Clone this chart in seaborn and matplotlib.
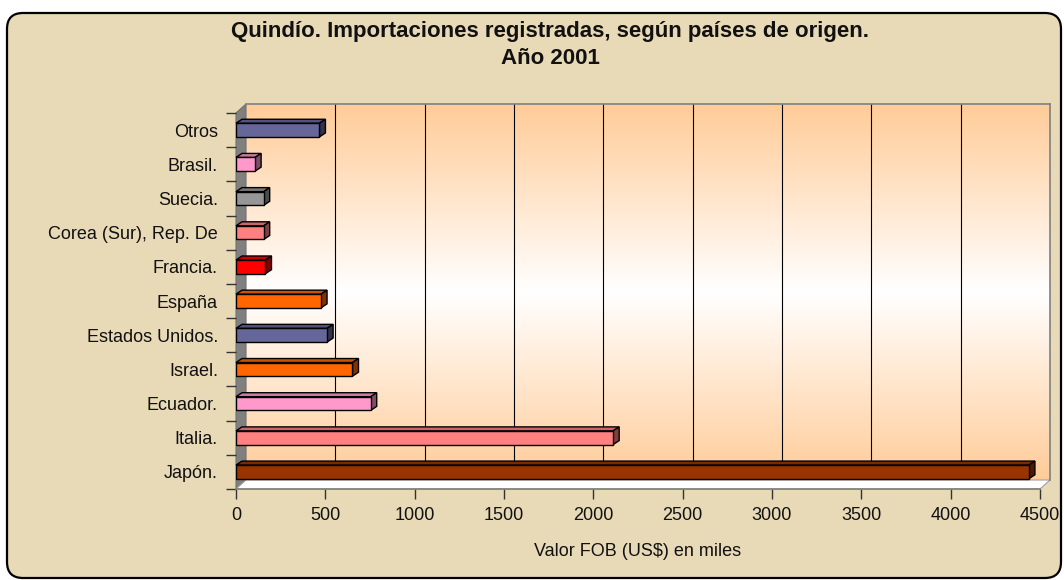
import numpy as np
import pandas as pd
import matplotlib
matplotlib.use("Agg")
import matplotlib.pyplot as plt
import seaborn as sns
from matplotlib.patches import Polygon, FancyBboxPatch
from matplotlib.transforms import IdentityTransform
from matplotlib.colors import LinearSegmentedColormap, to_rgb

# ---------------- data ----------------
countries = ["Otros", "Brasil.", "Suecia.", "Corea (Sur), Rep. De", "Francia.",
             "España", "Estados Unidos.", "Israel.", "Ecuador.", "Italia.", "Japón."]
values = [467, 107, 155, 155, 165, 476, 510, 652, 754, 2111, 4438]
bar_colors = ["#666699", "#FF99CC", "#969696", "#FF8080", "#FF0000",
              "#FF6600", "#666699", "#FF6600", "#FF99CC", "#FF8080", "#993300"]
x_ticks = [0, 500, 1000, 1500, 2000, 2500, 3000, 3500, 4000, 4500]
title_lines = ["Quindío. Importaciones registradas, según países de origen.", "Año 2001"]
x_label = "Valor FOB (US$) en miles"

df = pd.DataFrame({"pais": countries, "valor": values})
palette = dict(zip(countries, bar_colors))

sns.set_theme(style="white")
plt.rcParams["font.family"] = ["Liberation Sans", "DejaVu Sans"]

W, H = 1064, 580
fig = plt.figure(figsize=(W / 100, H / 100), dpi=100)
fig.patch.set_facecolor("white")

# parchment frame
frame = FancyBboxPatch((7, 2), 1054, 565, boxstyle="round,pad=0,rounding_size=16",
                       transform=IdentityTransform(), facecolor="#E8D9B7",
                       edgecolor="black", linewidth=1.6, zorder=-10)
fig.patches.append(frame)

# front plane geometry (pixels, from top-left)
fl, fr, ft, fb = 236, 1040, 113, 489
DX, DY = 10, 9  # depth offset of the back wall

def fig_rect(l, r, t, b):
    return [l / W, 1 - b / H, (r - l) / W, (b - t) / H]

bg = fig.add_axes(fig_rect(fl + DX, fr + DX, ft - DY, fb - DY))
ax = fig.add_axes(fig_rect(fl, fr, ft, fb))
bg.set_zorder(0)
ax.set_zorder(1)
ax.patch.set_visible(False)

# back wall gradient
cmap = LinearSegmentedColormap.from_list("wall", ["#FFFFFF", "#FFCC99"])
grad = np.abs(np.linspace(-1, 1, 200))[:, None] ** 1.0
bg.imshow(grad, aspect="auto", cmap=cmap, extent=[0, 4500, 0, 1], vmin=0, vmax=1,
          zorder=0)
bg.set_xlim(0, 4500)
bg.set_ylim(0, 1)
for xv in x_ticks[1:-1]:
    bg.axvline(xv, color="black", lw=0.8, zorder=1)
bg.set_xticks([])
bg.set_yticks([])
for s in bg.spines.values():
    s.set_color("#808080")
    s.set_linewidth(1.2)
bg.spines["left"].set_visible(False)
bg.spines["bottom"].set_visible(False)

# bars
sns.barplot(data=df, x="valor", y="pais", hue="pais", palette=palette, order=countries,
            hue_order=countries, legend=False, width=0.4, edgecolor="black",
            linewidth=1.0, saturation=1, ax=ax, zorder=3)
ax.set_xlim(0, 4500)
ax.set_ylim(len(countries) - 0.5, -0.5)
ax.set_xticks(x_ticks)
ax.set_xticklabels([str(v) for v in x_ticks], fontsize=13)
ax.set_yticks(range(len(countries)))
ax.set_yticklabels(countries, fontsize=13)
ax.set_yticks(np.arange(-0.5, len(countries), 1), minor=True)
ax.tick_params(axis="y", which="major", length=0, pad=13, colors="#111111")
ax.tick_params(axis="y", which="minor", left=True, length=7, width=1, color="#333333")
ax.tick_params(axis="x", which="major", bottom=True, length=7, width=1, color="#333333",
               pad=6, colors="#111111")
ax.set_xlabel(x_label, fontsize=13, labelpad=14, color="#111111")
ax.set_ylabel("")
for s in ["top", "right", "left"]:
    ax.spines[s].set_visible(False)
ax.spines["bottom"].set_color("#808080")
ax.spines["bottom"].set_linewidth(1.2)

# walls (left wall grey, floor white), drawn in pixel coords
fig.canvas.draw()
def px(x, y):
    return (x, H - y)

left_wall = Polygon([px(fl, ft), px(fl + DX, ft - DY), px(fl + DX, fb - DY), px(fl, fb)],
                    closed=True, transform=IdentityTransform(), facecolor="#808080",
                    edgecolor="#707070", lw=0.8, clip_on=False, zorder=2)
floor = Polygon([px(fl, fb), px(fl + DX, fb - DY), px(fr + DX, fb - DY), px(fr, fb)],
                closed=True, transform=IdentityTransform(), facecolor="white",
                edgecolor="#A0A0A0", lw=0.8, clip_on=False, zorder=2)
bg.add_patch(left_wall)
bg.add_patch(floor)

# 3D faces of bars
bdx, bdy = 6, 4
def shade(c, f):
    r, g, b = to_rgb(c)
    return (r * f, g * f, b * f)

for p in list(ax.patches):
    x0, y0 = p.get_x(), p.get_y()
    w, h = p.get_width(), p.get_height()
    (dxa, dya) = ax.transData.transform((x0, y0))
    (dxb, dyb) = ax.transData.transform((x0 + w, y0 + h))
    left, right = min(dxa, dxb), max(dxa, dxb)
    bottom, top = min(dya, dyb), max(dya, dyb)
    fc = p.get_facecolor()
    topface = Polygon([(left, top), (left + bdx, top + bdy), (right + bdx, top + bdy), (right, top)],
                      closed=True, transform=IdentityTransform(), facecolor=shade(fc[:3], 0.8),
                      edgecolor="black", lw=1.0, clip_on=False, zorder=2.9)
    side = Polygon([(right, top), (right + bdx, top + bdy), (right + bdx, bottom + bdy), (right, bottom)],
                   closed=True, transform=IdentityTransform(), facecolor=shade(fc[:3], 0.5),
                   edgecolor="black", lw=1.0, clip_on=False, zorder=2.9)
    ax.add_patch(topface)
    ax.add_patch(side)

# title
fig.text(550 / W, 1 - 32 / H, title_lines[0], ha="center", va="center", fontsize=16,
         fontweight="bold", color="#111111")
fig.text(550 / W, 1 - 58 / H, title_lines[1], ha="center", va="center", fontsize=16,
         fontweight="bold", color="#111111")

fig.savefig("out.png", dpi=100)
